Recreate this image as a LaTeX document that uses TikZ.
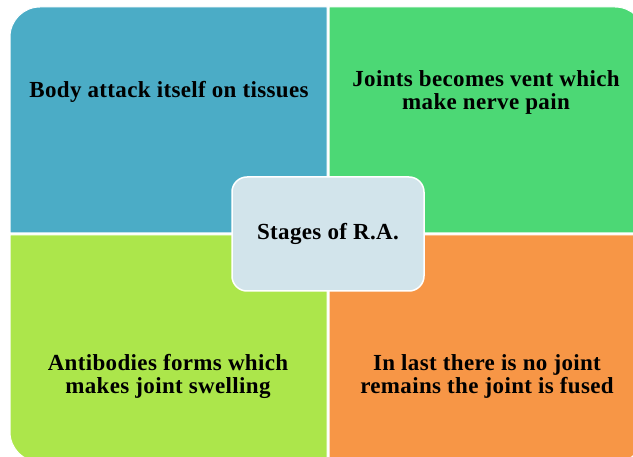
\documentclass[tikz,border=0pt]{standalone}
\usepackage{fontspec}
\setmainfont{Liberation Serif}
\definecolor{quadblue}{HTML}{4BACC6}
\definecolor{quadgreen}{HTML}{4CD875}
\definecolor{quadlime}{HTML}{ACE64B}
\definecolor{quadorange}{HTML}{F79646}
\definecolor{centerfill}{HTML}{D2E4EB}
\begin{document}
\begin{tikzpicture}[x=1pt,y=1pt,
		quad/.style={draw=white, line width=1pt},
		stagetext/.style={align=center, text=black, font=\bfseries\fontsize{23}{23}\selectfont\addfontfeature{LetterSpace=1.5}}]
		\useasboundingbox (0,0) rectangle (633,456);
		% Quadrants
		\filldraw[quad, fill=quadblue] (10,223) -- (10,419) arc[start angle=180, end angle=90, radius=30] -- (327,449) -- (327,223) -- cycle;
		\filldraw[quad, fill=quadgreen] (329,223) -- (329,449) -- (615,449) arc[start angle=90, end angle=0, radius=30] -- (645,223) -- cycle;
		\filldraw[quad, fill=quadlime] (10,221) -- (10,24) arc[start angle=180, end angle=270, radius=30] -- (327,-6) -- (327,221) -- cycle;
		\filldraw[quad, fill=quadorange] (329,221) -- (329,-6) -- (615,-6) arc[start angle=270, end angle=360, radius=30] -- (645,221) -- cycle;
		
		% Stage texts
		\node[stagetext] (attack) at (169,364) {Body attack itself on tissues};
		\node[stagetext] (vent) at (486,364) {Joints becomes vent which\\make nerve pain};
		\node[stagetext] (swell) at (168,80) {Antibodies forms which\\makes joint swelling};
		\node[stagetext] (fused) at (487,80) {In last there is no joint\\remains the joint is fused};
		
		% Centre box
		\node[stagetext, fill=centerfill, draw=white, line width=1.5pt, rounded corners=15pt,
			minimum width=192, minimum height=114] (stages) at (328,222) {Stages of R.A.};
	\end{tikzpicture}
\end{document}
